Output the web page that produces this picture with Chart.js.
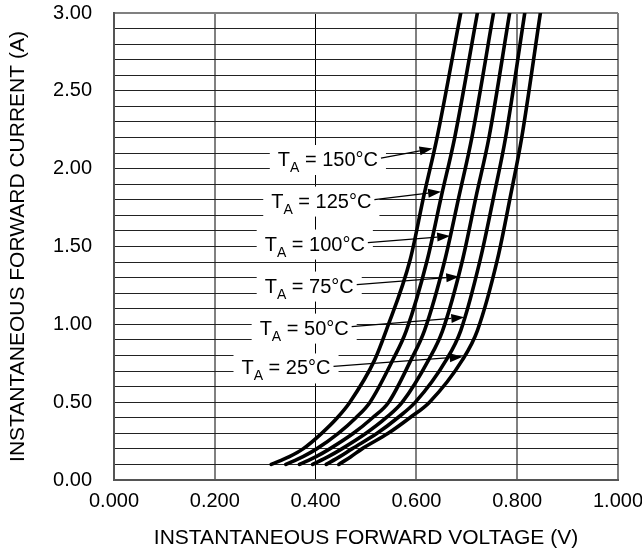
<!DOCTYPE html>
<html>
<head>
<meta charset="utf-8">
<script src="https://cdn.jsdelivr.net/npm/chart.js@4/dist/chart.umd.min.js"></script>
<style>
    body { margin: 0; background: #fff; }
    #wrap { width: 642px; height: 556px; }
</style>
</head>
<body>
<div id="wrap"><canvas id="chart" width="642" height="556"></canvas></div>
<script>
// Forward current levels (A) at which each curve was read
const currentA = [0.1, 0.15, 0.2, 0.3, 0.4, 0.5, 0.77, 0.96, 1.42, 1.83, 2.2, 3.0];

// Forward voltage (V) per ambient temperature
const volts150 = [0.312, 0.348, 0.375, 0.412, 0.443, 0.468, 0.517, 0.540, 0.588, 0.615, 0.641, 0.688];
const volts125 = [0.341, 0.375, 0.402, 0.445, 0.480, 0.508, 0.553, 0.580, 0.622, 0.650, 0.676, 0.721];
const volts100 = [0.368, 0.401, 0.428, 0.475, 0.513, 0.545, 0.589, 0.616, 0.657, 0.685, 0.710, 0.753];
const volts75  = [0.394, 0.425, 0.452, 0.500, 0.540, 0.572, 0.624, 0.652, 0.692, 0.719, 0.744, 0.785];
const volts50  = [0.421, 0.448, 0.472, 0.522, 0.563, 0.598, 0.659, 0.688, 0.727, 0.754, 0.777, 0.815];
const volts25  = [0.446, 0.470, 0.492, 0.544, 0.587, 0.626, 0.691, 0.721, 0.761, 0.787, 0.809, 0.846];

const tempLabels = ['150', '125', '100', '75', '50', '25'];
const xTickLabels = ['0.000', '0.200', '0.400', '0.600', '0.800', '1.000'];
const yTickLabels = ['0.00', '0.50', '1.00', '1.50', '2.00', '2.50', '3.00'];

// Callout text start and arrow tip, in data units (V, A)
const calloutTextX = [0.325, 0.312, 0.299, 0.299, 0.289, 0.253];
const calloutTextY = [2.062, 1.795, 1.519, 1.249, 0.979, 0.723];
const calloutTipX  = [0.632, 0.649, 0.667, 0.685, 0.695, 0.692];
const calloutTipY  = [2.130, 1.852, 1.567, 1.306, 1.045, 0.792];

const FONT = '"Liberation Sans", Arial, sans-serif';
const allVolts = [volts150, volts125, volts100, volts75, volts50, volts25];

const datasets = allVolts.map((volts, i) => ({
    label: 'TA = ' + tempLabels[i] + '°C',
    data: volts.map((v, k) => ({ x: v, y: currentA[k] })),
    showLine: true,
    borderColor: '#000',
    borderWidth: 3.6,
    borderCapStyle: 'round',
    pointRadius: 0,
    cubicInterpolationMode: 'monotone'
}));

function near(a, b) { return Math.abs(a - b) < 1e-6; }

// measure "T" + subscript "A" + " = xx°C"
function calloutParts(ctx, temp) {
    ctx.font = '20px ' + FONT;
    const wT = ctx.measureText('T').width;
    const rest = ' = ' + temp + '°C';
    const wRest = ctx.measureText(rest).width;
    ctx.font = '14px ' + FONT;
    const wA = ctx.measureText('A').width;
    return { wT, wA, wRest, rest, total: wT + wA + wRest };
}

const calloutBoxes = {
    id: 'calloutBoxes',
    beforeDatasetsDraw(chart) {
        const ctx = chart.ctx;
        const xs = chart.scales.x, ys = chart.scales.y;
        ctx.save();
        ctx.fillStyle = '#fff';
        tempLabels.forEach((t, i) => {
            const p = calloutParts(ctx, t);
            const x0 = xs.getPixelForValue(calloutTextX[i]);
            const cy = ys.getPixelForValue(calloutTextY[i]);
            ctx.fillRect(x0 - 8, cy - 14, p.total + 16, 30);
        });
        ctx.restore();
    },
    afterDatasetsDraw(chart) {
        const ctx = chart.ctx;
        const xs = chart.scales.x, ys = chart.scales.y;
        ctx.save();
        tempLabels.forEach((t, i) => {
            const p = calloutParts(ctx, t);
            const x0 = xs.getPixelForValue(calloutTextX[i]);
            const cy = ys.getPixelForValue(calloutTextY[i]);
            const base = cy + 7;
            ctx.fillStyle = '#000';
            ctx.textBaseline = 'alphabetic';
            ctx.textAlign = 'left';
            ctx.font = '20px ' + FONT;
            ctx.fillText('T', x0, base);
            ctx.font = '14px ' + FONT;
            ctx.fillText('A', x0 + p.wT, base + 6);
            ctx.font = '20px ' + FONT;
            ctx.fillText(p.rest, x0 + p.wT + p.wA, base);

            // arrow
            const sx = x0 + p.total + 3, sy = cy - 1;
            const tx = xs.getPixelForValue(calloutTipX[i]);
            const ty = ys.getPixelForValue(calloutTipY[i]);
            const ang = Math.atan2(ty - sy, tx - sx);
            const len = 13, half = 4.5;
            const bx = tx - len * Math.cos(ang), by = ty - len * Math.sin(ang);
            ctx.strokeStyle = '#000';
            ctx.lineWidth = 1.3;
            ctx.beginPath();
            ctx.moveTo(sx, sy);
            ctx.lineTo(bx, by);
            ctx.stroke();
            ctx.beginPath();
            ctx.moveTo(tx, ty);
            ctx.lineTo(bx - half * Math.sin(ang), by + half * Math.cos(ang));
            ctx.lineTo(bx + half * Math.sin(ang), by - half * Math.cos(ang));
            ctx.closePath();
            ctx.fill();
        });
        ctx.restore();
    }
};

new Chart(document.getElementById('chart'), {
    type: 'scatter',
    data: { datasets },
    plugins: [calloutBoxes],
    options: {
        responsive: false,
        animation: false,
        devicePixelRatio: 1,
        layout: { padding: 0 },
        plugins: {
            legend: { display: false },
            tooltip: { enabled: false }
        },
        scales: {
            x: {
                type: 'linear',
                min: 0,
                max: 1,
                afterFit: (scale) => {
                    scale.height = 76;
                    scale.paddingLeft = 0;
                    scale.paddingRight = 24;
                },
                ticks: {
                    stepSize: 0.2,
                    padding: 9,
                    color: '#000',
                    font: { family: FONT, size: 20 },
                    callback: (val) => {
                        const k = Math.round(val / 0.2);
                        return near(val, k * 0.2) ? xTickLabels[k] : '';
                    }
                },
                grid: {
                    drawTicks: false,
                    color: (c) => near(c.tick.value, 0.4) ? '#000' : '#808080',
                    lineWidth: (c) => near(c.tick.value, 0.4) ? 1 : 2
                },
                border: { color: '#555', width: 2 },
                title: {
                    display: true,
                    text: 'INSTANTANEOUS FORWARD VOLTAGE (V)',
                    color: '#000',
                    font: { family: FONT, size: 21 },
                    padding: { top: 2, bottom: 5 }
                }
            },
            y: {
                type: 'linear',
                min: 0,
                max: 3,
                afterFit: (scale) => {
                    scale.width = 114;
                    scale.paddingTop = 13;
                    scale.paddingBottom = 0;
                },
                ticks: {
                    stepSize: 0.1,
                    padding: 22,
                    color: '#000',
                    font: { family: FONT, size: 20 },
                    autoSkip: false,
                    callback: (val) => {
                        const k = Math.round(val / 0.5);
                        return near(val, k * 0.5) ? yTickLabels[k] : '';
                    }
                },
                grid: {
                    drawTicks: false,
                    color: (c) => near(c.tick.value, 3) ? '#808080' : '#222',
                    lineWidth: (c) => near(c.tick.value, 3) ? 2 : 1
                },
                border: { color: '#555', width: 2 },
                title: {
                    display: true,
                    text: 'INSTANTANEOUS FORWARD CURRENT (A)',
                    color: '#000',
                    font: { family: FONT, size: 21 },
                    padding: { top: 6, bottom: 0 }
                }
            }
        }
    }
});
</script>
</body>
</html>
